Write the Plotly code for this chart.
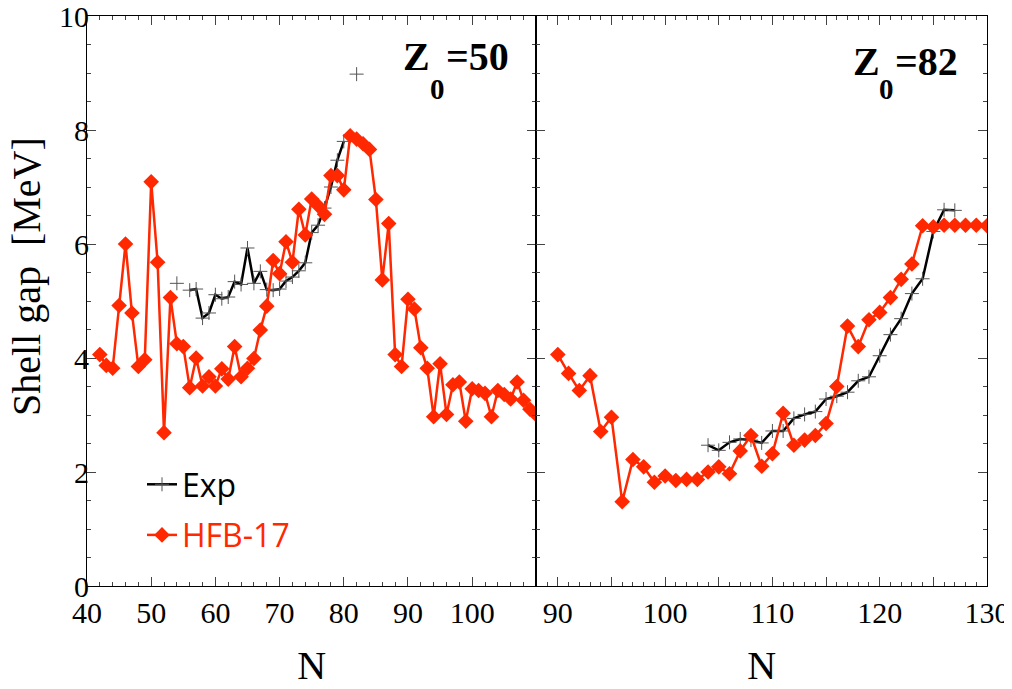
import plotly.graph_objects as go
from plotly.subplots import make_subplots

# Z0 = 50 panel
n_hfb_z50 = list(range(42, 111))
gap_hfb_z50 = [
    4.06, 3.87, 3.82, 4.92, 6.00, 4.79, 3.85, 3.97, 7.09, 5.68,
    2.69, 5.06, 4.25, 4.20, 3.48, 4.00, 3.51, 3.67, 3.51, 3.81,
    3.63, 4.20, 3.67, 3.82, 3.99, 4.49, 4.91, 5.71, 5.48, 6.04,
    5.68, 6.61, 6.16, 6.79, 6.67, 6.52, 7.20, 7.20, 6.95, 7.90,
    7.84, 7.76, 7.66, 6.78, 5.37, 6.36, 4.06, 3.85, 5.03, 4.86,
    4.18, 3.82, 2.97, 3.90, 3.01, 3.53, 3.58, 2.89, 3.46, 3.43,
    3.38, 2.97, 3.43, 3.36, 3.28, 3.58, 3.26, 3.10, 3.00,
]
n_exp_z50 = list(range(54, 83))
gap_exp_z50 = [
    5.31, None, 5.19, 5.21, 4.70, 4.79, 5.11, 5.04, 5.07, 5.34,
    5.29, 5.93, 5.31, 5.52, 5.20, 5.19, 5.21, 5.35, 5.42, 5.53,
    5.67, 6.20, 6.33, 6.63, 7.00, 7.47, 7.80, None, 8.98,
]

# Z0 = 82 panel
n_hfb_z82 = list(range(90, 131))
gap_hfb_z82 = [
    4.06, 3.73, 3.43, 3.69, 2.71, 2.96, 1.48, 2.22, 2.09, 1.82,
    1.93, 1.85, 1.87, 1.87, 2.00, 2.09, 1.97, 2.37, 2.64, 2.10,
    2.32, 3.03, 2.47, 2.56, 2.64, 2.85, 3.50, 4.56, 4.20, 4.67,
    4.80, 5.06, 5.38, 5.65, 6.32, 6.30, 6.33, 6.33, 6.33, 6.33,
    6.32,
]
n_exp_z82 = list(range(104, 128))
gap_exp_z82 = [
    2.47, 2.38, 2.52, 2.58, 2.56, 2.51, 2.72, 2.72, 2.94, 3.01,
    3.06, 3.28, 3.33, 3.40, 3.60, 3.67, 4.04, 4.41, 4.69, 5.13,
    5.39, 6.22, 6.60, 6.59,
]

RED = "#ff2800"
SERIF = "Liberation Serif"
SANS = "Open Sans"

W, H = 1012, 689
# the page body has an 8px margin, so the figure is laid out 8px up/left
L, R, T, B = 79, 33, 8, 111


def px(x):
    # window pixel -> paper x
    return (x - 8 - L) / (W - L - R)


def py(y):
    # window pixel -> paper y
    return (H - B - (y - 8)) / (H - T - B)


fig = make_subplots(rows=1, cols=2, shared_yaxes=True, horizontal_spacing=0,
                    column_widths=[0.4993, 0.5007])

for col, (nx, gx, nh, gh) in enumerate([
        (n_exp_z50, gap_exp_z50, n_hfb_z50, gap_hfb_z50),
        (n_exp_z82, gap_exp_z82, n_hfb_z82, gap_hfb_z82)], start=1):
    fig.add_trace(go.Scatter(
        x=nx, y=gx, mode="lines+markers", name="Exp",
        legendgroup="exp", showlegend=(col == 1), connectgaps=False,
        line=dict(color="black", width=2.5),
        marker=dict(symbol="cross-thin", size=10,
                    line=dict(color="#555555", width=1)),
    ), row=1, col=col)
    fig.add_trace(go.Scatter(
        x=nh, y=gh, mode="lines+markers",
        name=f"<span style='color:{RED}'>HFB-17</span>",
        legendgroup="hfb", showlegend=(col == 1),
        line=dict(color=RED, width=2.5),
        marker=dict(symbol="diamond", size=12, color=RED),
    ), row=1, col=col)

axis_common = dict(
    showline=True, linecolor="black", linewidth=1.2, mirror="allticks",
    ticks="inside", ticklen=9, tickwidth=1, tickcolor="#444444",
    showgrid=False, zeroline=False, ticklabeloverflow="allow",
    automargin=False,
    tickfont=dict(family=SERIF, size=30, color="black"),
)

fig.update_xaxes(
    range=[40, 110], tickmode="array", tickvals=list(range(40, 101, 10)),
    minor=dict(ticks="inside", dtick=2, tick0=40, ticklen=4,
               tickcolor="#444444", showgrid=False),
    title=dict(text="N", font=dict(family=SERIF, size=40, color="black"),
               standoff=22),
    row=1, col=1, **axis_common,
)
fig.update_xaxes(
    range=[88, 130], tickmode="array", tickvals=list(range(90, 131, 5)),
    ticktext=["90", "", "100", "", "110", "", "120", "", "130"],
    minor=dict(ticks="inside", dtick=1, tick0=88, ticklen=4,
               tickcolor="#444444", showgrid=False),
    title=dict(text="N", font=dict(family=SERIF, size=40, color="black"),
               standoff=22),
    row=1, col=2, **axis_common,
)
fig.update_yaxes(
    range=[0, 10], tickmode="array", tickvals=[0, 2, 4, 6, 8, 10],
    minor=dict(ticks="inside", dtick=0.5, ticklen=4,
               tickcolor="#444444", showgrid=False),
    ticklabelstandoff=-9,
    **axis_common,
)
fig.update_yaxes(showticklabels=False, row=1, col=2)

annotations = [
    dict(text="Shell gap&nbsp; [MeV]", x=px(26), y=py(277), textangle=-90,
         font=dict(family=SERIF, size=40, color="black")),
    # Z0=50
    dict(text="<b>Z</b>", x=px(416.5), y=py(56),
         font=dict(family=SERIF, size=40, color="black")),
    dict(text="<b>0</b>", x=px(437), y=py(89),
         font=dict(family=SERIF, size=29, color="black")),
    dict(text="<b>=50</b>", x=px(444), y=py(56), xanchor="left",
         font=dict(family=SERIF, size=40, color="black")),
    # Z0=82
    dict(text="<b>Z</b>", x=px(866.7), y=py(61),
         font=dict(family=SERIF, size=40, color="black")),
    dict(text="<b>0</b>", x=px(886.7), y=py(89),
         font=dict(family=SERIF, size=29, color="black")),
    dict(text="<b>=82</b>", x=px(893.3), y=py(61), xanchor="left",
         font=dict(family=SERIF, size=40, color="black")),
]
for a in annotations:
    a.setdefault("xanchor", "center")
    a.update(xref="paper", yref="paper", yanchor="middle", showarrow=False)

fig.update_layout(
    width=W, height=H,
    margin=dict(l=L, r=R, t=T, b=B),
    plot_bgcolor="white", paper_bgcolor="white",
    annotations=annotations,
    legend=dict(
        x=px(142), y=py(457), xanchor="left", yanchor="top",
        bgcolor="rgba(0,0,0,0)", tracegroupgap=6,
        font=dict(family=SANS, size=32, color="black"),
    ),
)

fig.write_html("out.html")
